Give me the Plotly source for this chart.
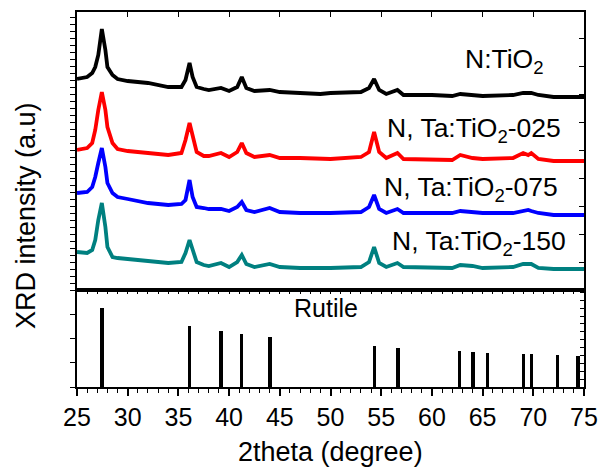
import plotly.graph_objects as go

# ---------------- data ----------------
two_theta = [25, 26, 26.5, 26.8, 27.1, 27.45, 27.8, 28.0, 28.5, 29, 30, 32, 34, 35.3, 35.7,
             36.1, 36.4, 36.8, 37.5, 38, 39.2, 40, 40.8, 41.25, 41.7, 42.5, 44, 45, 47, 49,
             50, 53, 53.8, 54.3, 54.8, 55.5, 56.6, 57.2, 60, 62, 62.8, 64, 65, 68, 69.0,
             69.5, 69.8, 70.5, 72, 75]

# stacked (offset) intensities, arbitrary units
n_tio2 = [211, 213, 217, 223, 235, 261, 240, 223, 215, 211, 209, 207, 203, 203, 210,
          227, 213, 203, 201, 200, 202, 199, 203, 213, 202, 199, 200, 198, 197, 196,
          197, 198, 202, 211, 200, 196, 200, 195, 195, 194, 196, 195, 194, 195, 197,
          197, 197, 195, 193, 193]
ta_025 = [140, 142, 147, 160, 180, 198, 180, 163, 147, 141, 139, 137, 135, 137, 150,
          167, 153, 138, 134, 134, 137, 133, 138, 147, 137, 133, 135, 132, 132, 131,
          131, 133, 138, 158, 138, 132, 137, 131, 130, 130, 135, 132, 131, 132, 137,
          135, 137, 131, 129, 129]
ta_075 = [97, 98, 103, 113, 127, 142, 123, 107, 97, 93, 91, 87, 85, 86, 90,
          110, 93, 83, 82, 81, 81, 79, 83, 88, 80, 78, 82, 78, 77, 77,
          77, 78, 83, 95, 81, 77, 81, 77, 77, 77, 79, 78, 77, 77, 79,
          80, 79, 77, 75, 75]
ta_150 = [38, 37, 40, 50, 70, 87, 63, 43, 33, 32, 31, 29, 27, 28, 37,
          50, 40, 28, 25, 24, 27, 23, 28, 35, 26, 23, 26, 23, 22, 22,
          22, 23, 28, 43, 27, 23, 27, 23, 22, 22, 25, 24, 22, 23, 26,
          26, 26, 22, 21, 21]

rutile_pos = [27.45, 36.09, 39.19, 41.25, 44.05, 54.32, 56.64, 62.75, 64.04, 65.49,
              69.01, 69.79, 72.41, 74.41]
rutile_int = [100, 77.5, 71.5, 67, 63.5, 52, 49.5, 46, 44.5, 43, 42, 42, 40.5, 39.5]

series_names = ["N:TiO<sub>2</sub>", "N, Ta:TiO<sub>2</sub>-025",
                "N, Ta:TiO<sub>2</sub>-075", "N, Ta:TiO<sub>2</sub>-150"]
series_colors = ["#000000", "#FF0000", "#0000FF", "#008080"]
label_x = [63.07, 55.37, 55.08, 55.87]
label_y = [229, 160, 101, 47]

x_ticks = [25, 30, 35, 40, 45, 50, 55, 60, 65, 70, 75]

FONT = "Liberation Sans, Arial, sans-serif"

fig = go.Figure()

for name, ys, col in zip(series_names, [n_tio2, ta_025, ta_075, ta_150], series_colors):
    fig.add_trace(go.Scatter(x=two_theta, y=ys, mode="lines", name=name,
                             line=dict(color=col, width=3.8),
                             xaxis="x2", yaxis="y2", showlegend=False))

fig.add_trace(go.Bar(x=rutile_pos, y=rutile_int, width=0.33, marker=dict(color="black", line=dict(width=0)),
                     xaxis="x", yaxis="y", showlegend=False, name="Rutile"))

# invisible helper traces so overlay axes get drawn
fig.add_trace(go.Scatter(x=[25], y=[0], mode="markers", marker=dict(opacity=0),
                         xaxis="x3", yaxis="y", showlegend=False, hoverinfo="skip"))
fig.add_trace(go.Scatter(x=[25], y=[0], mode="markers", marker=dict(opacity=0),
                         xaxis="x2", yaxis="y3", showlegend=False, hoverinfo="skip"))
fig.add_trace(go.Scatter(x=[25], y=[0], mode="markers", marker=dict(opacity=0),
                         xaxis="x", yaxis="y4", showlegend=False, hoverinfo="skip"))

split = 97 / 375
common_line = dict(showline=True, linecolor="black", linewidth=1.5, showgrid=False,
                   zeroline=False, automargin=False)
overlay_common = dict(showticklabels=False, showline=False, showgrid=False,
                      zeroline=False, automargin=False)

fig.update_layout(
    width=600, height=468,
    margin=dict(l=77, r=16, t=12, b=81, autoexpand=False),
    paper_bgcolor="white", plot_bgcolor="white",
    font=dict(family=FONT, color="black"),
    bargap=0,
    showlegend=False,
    xaxis=dict(domain=[0, 1], anchor="y", range=[25, 75], tickmode="array", tickvals=x_ticks,
               ticks="outside", ticklen=7, tickwidth=1.5, tickcolor="black",
               minor=dict(dtick=1, tick0=25, ticks="outside", ticklen=4, tickwidth=1.2, tickcolor="black"),
               tickfont=dict(size=25, family=FONT), mirror=True, **common_line),
    yaxis=dict(domain=[0, split], anchor="x", range=[0, 123], tick0=0, dtick=30.75,
               ticks="outside", ticklen=5, tickwidth=1.2, tickcolor="black",
               showticklabels=False, mirror=True, **common_line),
    xaxis2=dict(domain=[0, 1], anchor="y2", range=[25, 75], side="top", tick0=25, dtick=5,
                ticks="inside", ticklen=5, tickwidth=1.2, tickcolor="black",
                showticklabels=False, mirror=True, **common_line),
    yaxis2=dict(domain=[split, 1], anchor="x2", range=[0, 278], tick0=0, dtick=28,
                ticks="outside", ticklen=5, tickwidth=1.2, tickcolor="black",
                minor=dict(dtick=7, ticks="outside", ticklen=5, tickwidth=1.2, tickcolor="black"),
                showticklabels=False, mirror=True, **common_line),
    xaxis3=dict(overlaying="x", anchor="y", side="top", range=[25, 75], tick0=25, dtick=1,
                ticks="inside", ticklen=4, tickwidth=1.2, tickcolor="black", **overlay_common),
    yaxis3=dict(overlaying="y2", anchor="x2", side="right", range=[0, 278], tick0=0, dtick=28,
                ticks="inside", ticklen=5, tickwidth=1.2, tickcolor="black", **overlay_common),
    yaxis4=dict(overlaying="y", anchor="x", side="right", range=[0, 123], tick0=0, dtick=10,
                ticks="inside", ticklen=4, tickwidth=1.2, tickcolor="black", **overlay_common),
)

annotations = []
for name, lx, ly in zip(series_names, label_x, label_y):
    annotations.append(dict(x=lx, y=ly, xref="x2", yref="y2", text=name, showarrow=False,
                            xanchor="left", yanchor="middle", font=dict(size=26.5, family=FONT, color="black")))
annotations.append(dict(x=49.6, y=100, xref="x", yref="y", text="Rutile", showarrow=False,
                        xanchor="center", yanchor="middle", font=dict(size=25, family=FONT, color="black")))
annotations.append(dict(x=-0.1006, y=0.4587, xref="paper", yref="paper", text="XRD intensity (a.u)",
                        textangle=-90, showarrow=False, xanchor="center", yanchor="middle",
                        font=dict(size=27, family=FONT, color="black")))
annotations.append(dict(x=0.5, y=-0.173, xref="paper", yref="paper", text="2theta (degree)",
                        showarrow=False, xanchor="center", yanchor="middle",
                        font=dict(size=27, family=FONT, color="black")))
fig.update_layout(annotations=annotations)

fig.write_html("out.html", config={"displayModeBar": False, "responsive": False},
               post_script="document.body.style.margin='0';document.body.style.padding='0';document.body.style.overflow='hidden';")
